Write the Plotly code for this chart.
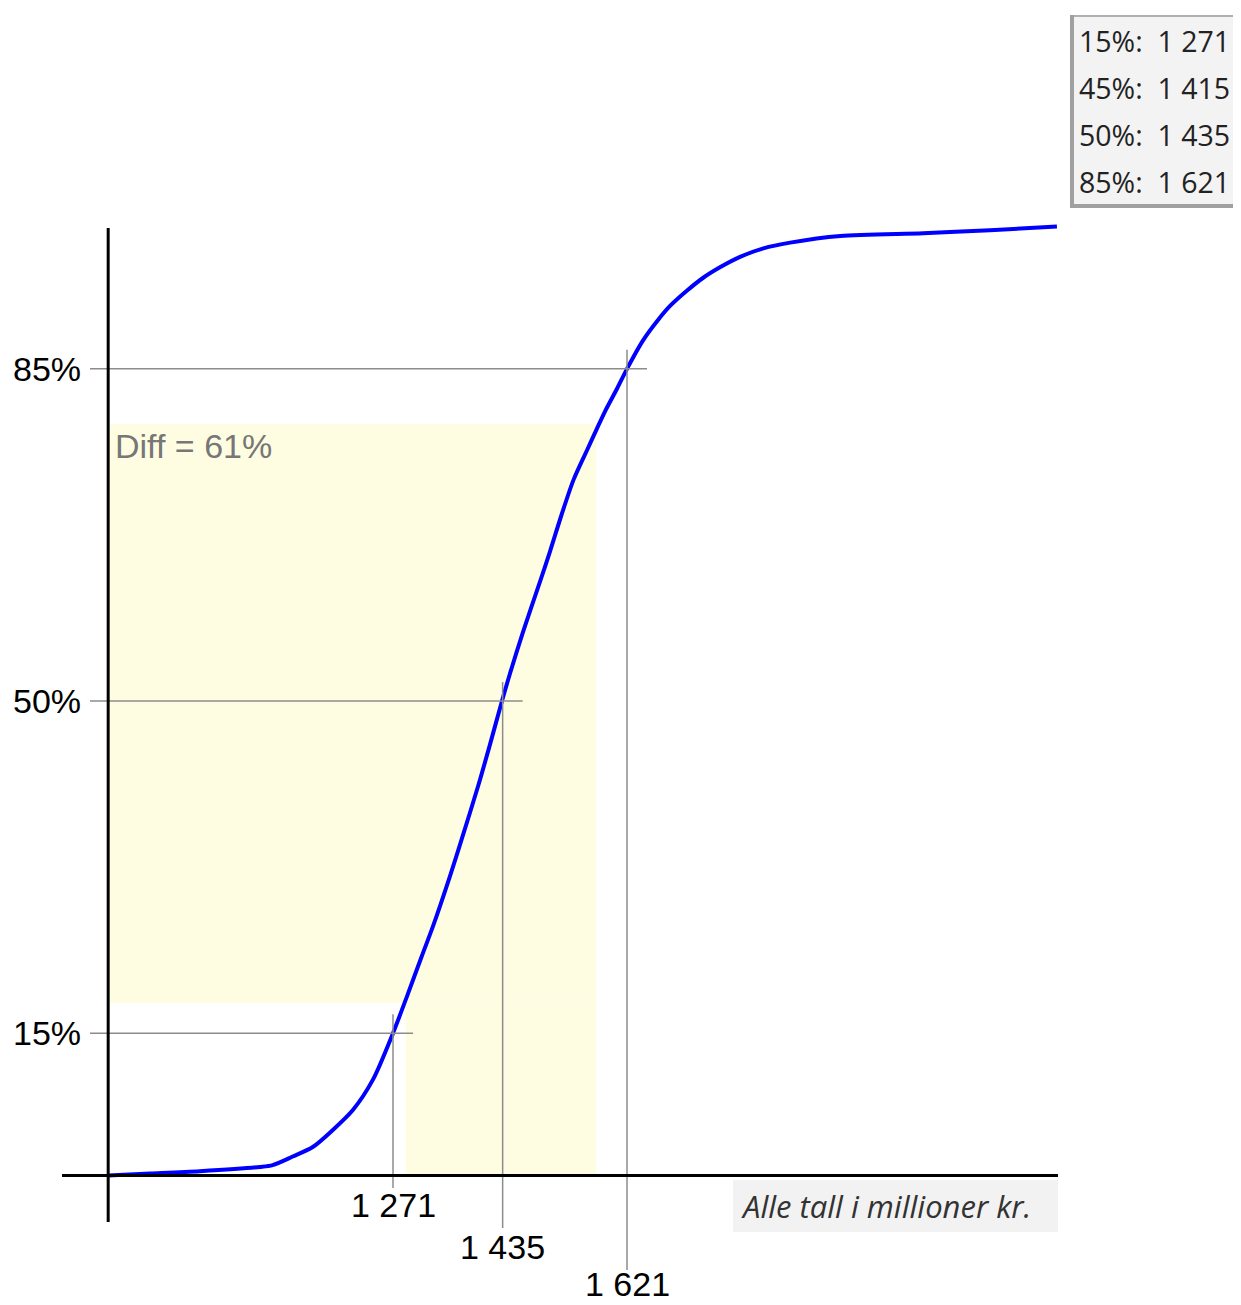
import plotly.graph_objects as go

# ---- data ----
X_VALS = [845, 908, 982, 1072, 1091, 1121, 1151, 1181, 1211, 1241, 1271, 1291.5,
          1314, 1331, 1356, 1374, 1399, 1416, 1434, 1446, 1466, 1491, 1506, 1523,
          1541, 1561, 1576, 1588, 1606, 1621, 1645, 1668, 1685, 1710, 1735, 1760,
          1790, 1825, 1865, 1940, 2064, 2164, 2264]
CUM_PCT = [0.0, 0.2, 0.45, 0.9, 1.1, 2.0, 3.0, 4.8, 6.9, 10.1, 15.0, 18.8,
           23.1, 26.3, 31.5, 35.5, 41.2, 45.4, 50.0, 52.9, 57.4, 62.6, 65.8, 69.6,
           73.3, 76.4, 78.7, 80.5, 82.9, 85.0, 88.0, 90.2, 91.6, 93.2, 94.6, 95.7,
           96.8, 97.7, 98.3, 99.0, 99.3, 99.6, 100.0]

QUANT_PCTS = [15, 50, 85]
QUANT_VALS = [1271, 1435, 1621]
QUANT_LABELS = ["1 271", "1 435", "1 621"]
Y_LABELS = ["15%", "50%", "85%"]

LEGEND_TEXT = ["15%:\u00a0\u00a01 271", "45%:\u00a0\u00a01 415",
               "50%:\u00a0\u00a01 435", "85%:\u00a0\u00a01 621"]

DIFF_LOW, DIFF_HIGH = 18.2, 79.2
DIFF_X_LEFT, DIFF_X0, DIFF_X1 = 845, 1290, 1575
DIFF_LABEL = "Diff = 61%"
NOTE = "Alle tall i millioner kr."

# ---- pixel calibration (screen px -> data) ----
OFF = 8
W, H = 1241 - OFF, 1305 - OFF
PX_PER_X = 0.6686
PX_PER_Y = 9.49


def sx(px):
    return 1271 + (px - 393) / PX_PER_X


def sy(py):
    return (1175.5 - py) / PX_PER_Y


XR = [sx(OFF), sx(OFF + W)]
YR = [sy(OFF + H), sy(OFF)]

fig = go.Figure()
shapes = []
annotations = []

# diff region (yellow)
shapes.append(dict(type="rect", xref="x", yref="y", x0=DIFF_X_LEFT, x1=DIFF_X1,
                   y0=DIFF_LOW, y1=DIFF_HIGH, fillcolor="#fefde1",
                   line=dict(width=0), layer="below"))
shapes.append(dict(type="rect", xref="x", yref="y", x0=DIFF_X0, x1=DIFF_X1,
                   y0=0, y1=DIFF_LOW, fillcolor="#fefde1",
                   line=dict(width=0), layer="below"))

# crosshair lines
ext_x = 20 / PX_PER_X
ext_y = 19 / PX_PER_Y
bottoms = [sy(1188), sy(1228), sy(1270)]
for p, v, b in zip(QUANT_PCTS, QUANT_VALS, bottoms):
    shapes.append(dict(type="line", xref="x", yref="y", x0=sx(90), x1=v + ext_x,
                       y0=p, y1=p, line=dict(color="#8c8c8c", width=1.5)))
    shapes.append(dict(type="line", xref="x", yref="y", x0=v, x1=v,
                       y0=p + ext_y, y1=b, line=dict(color="#8c8c8c", width=1.5)))

# axes
shapes.append(dict(type="line", xref="x", yref="y", x0=sx(62), x1=sx(1058),
                   y0=0, y1=0, line=dict(color="black", width=3)))
shapes.append(dict(type="line", xref="x", yref="y", x0=X_VALS[0], x1=X_VALS[0],
                   y0=sy(1222), y1=sy(228), line=dict(color="black", width=3)))

# note box
shapes.append(dict(type="rect", xref="x", yref="y", x0=sx(733), x1=sx(1058),
                   y0=sy(1232), y1=sy(1180), fillcolor="#f2f2f2",
                   line=dict(width=0)))

# legend box
shapes.append(dict(type="rect", xref="x", yref="y", x0=sx(1071), x1=sx(1260),
                   y0=sy(207), y1=sy(16), fillcolor="#f3f3f3",
                   line=dict(color="#b0b0b0", width=2)))
shapes.append(dict(type="line", xref="x", yref="y", x0=sx(1072), x1=sx(1072),
                   y0=sy(208), y1=sy(15), line=dict(color="#a0a0a0", width=4)))
shapes.append(dict(type="line", xref="x", yref="y", x0=sx(1070), x1=sx(1260),
                   y0=sy(206), y1=sy(206), line=dict(color="#a0a0a0", width=4)))

fig.add_trace(go.Scatter(x=X_VALS, y=CUM_PCT, mode="lines",
                         line=dict(color="#0000ff", width=4, shape="spline",
                                   smoothing=0.8),
                         hoverinfo="skip", showlegend=False))

AX_FONT = dict(family="Liberation Sans, Arial", size=34, color="black")

# y labels
for p, t in zip(QUANT_PCTS, Y_LABELS):
    annotations.append(dict(x=sx(83), y=p, xref="x", yref="y", text=t,
                            showarrow=False, xanchor="right", yanchor="middle",
                            font=AX_FONT))
# x labels (staggered)
label_pos = [(sy(1205), "middle"), (sy(1247), "middle"), (sy(1305), "bottom")]
for v, t, (ly, anc) in zip(QUANT_VALS, QUANT_LABELS, label_pos):
    annotations.append(dict(x=v, y=ly, xref="x", yref="y", text=t,
                            showarrow=False, xanchor="center", yanchor=anc,
                            font=AX_FONT))

annotations.append(dict(x=sx(113), y=sy(446), xref="x", yref="y", text=DIFF_LABEL,
                        showarrow=False, xanchor="left", yanchor="middle",
                        font=dict(family="Liberation Sans, Arial", size=34,
                                  color="#777777")))

annotations.append(dict(x=sx(739), y=sy(1206), xref="x", yref="y",
                        text="<i>" + NOTE + "</i>",
                        showarrow=False, xanchor="left", yanchor="middle",
                        font=dict(family="Open Sans", size=31, color="#333333")))

for i, t in enumerate(LEGEND_TEXT):
    annotations.append(dict(x=sx(1077), y=sy(41 + 47 * i), xref="x", yref="y",
                            text=t, showarrow=False, xanchor="left",
                            yanchor="middle",
                            font=dict(family="Open Sans", size=28.5,
                                      color="#222222")))

fig.update_layout(
    width=W, height=H,
    margin=dict(l=0, r=0, t=0, b=0),
    paper_bgcolor="white", plot_bgcolor="white",
    xaxis=dict(range=XR, visible=False, fixedrange=True),
    yaxis=dict(range=YR, visible=False, fixedrange=True),
    shapes=shapes, annotations=annotations,
    showlegend=False,
)

fig.write_html("out.html")
